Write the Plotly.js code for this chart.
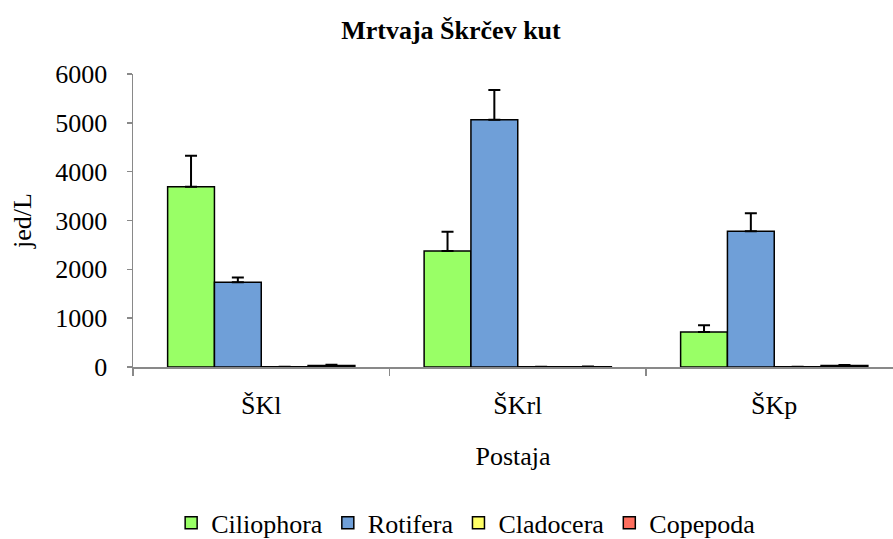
<!DOCTYPE html>
<html>
<head>
<meta charset="utf-8">
<script src="https://cdn.plot.ly/plotly-3.0.1.min.js"></script>
<style>html,body{margin:0;padding:0;background:#fff}#chart{width:893px;height:539px}</style>
</head>
<body>
<div id="chart"></div>
<script>
const categories = ["ŠKl", "ŠKrl", "ŠKp"];
const seriesNames = ["Ciliophora", "Rotifera", "Cladocera", "Copepoda"];
const ciliophora = [3690, 2375, 715];
const ciliophoraErr = [635, 395, 138];
const rotifera = [1735, 5065, 2780];
const rotiferaErr = [100, 608, 368];
const cladocera = [4, 4, 4];
const cladoceraErr = [0, 0, 0];
const copepoda = [30, 6, 30];
const copepodaErr = [15, 2, 12];
const yTicks = [0, 1000, 2000, 3000, 4000, 5000, 6000];

const colors = ["#99FF66", "#6F9FD8", "#FFFF66", "#FF6F5F"];
const values = [ciliophora, rotifera, cladocera, copepoda];
const errs = [ciliophoraErr, rotiferaErr, cladoceraErr, copepodaErr];
const font = "'Liberation Serif', 'Times New Roman', serif";
const fs = 26;

const traces = seriesNames.map((n, i) => ({
  type: "bar",
  name: n,
  x: categories,
  y: values[i],
  marker: {color: colors[i], line: {color: "#000", width: 1.5}},
  error_y: {type: "data", array: errs[i], symmetric: false, arrayminus: errs[i].map(() => 0),
            color: "#000", thickness: 2, width: 6, visible: true}
}));

const layout = {
  width: 893, height: 539,
  margin: {l: 133, r: 0, t: 74, b: 172},
  paper_bgcolor: "#fff", plot_bgcolor: "#fff",
  font: {family: font, size: fs, color: "#000"},
  title: {text: "<b>Mrtvaja Škrčev kut</b>", font: {family: font, size: 26, color: "#000"},
          x: 0.505, xref: "container", xanchor: "center", y: 0.945, yref: "container", yanchor: "middle"},
  barmode: "group", bargap: 0.27, bargroupgap: 0,
  xaxis: {
    type: "category", range: [-0.5, 2.463], tickson: "boundaries",
    showline: true, linecolor: "#898989", linewidth: 1.5,
    ticks: "outside", ticklen: 7, tickcolor: "#898989", tickwidth: 1.5,
    showgrid: false, zeroline: false, ticklabelstandoff: 14,
    tickfont: {family: font, size: fs, color: "#000"},
    title: {text: "Postaja", font: {family: font, size: fs, color: "#000"}, standoff: 28}
  },
  yaxis: {
    range: [0, 6000], tickvals: yTicks, ticktext: yTicks.map(String),
    showline: true, linecolor: "#898989", linewidth: 1.5,
    ticks: "outside", ticklen: 5, tickcolor: "#898989", tickwidth: 1.5,
    showgrid: false, zeroline: false, ticklabelstandoff: 14,
    tickfont: {family: font, size: fs, color: "#000"},
    title: {text: "jed/L", font: {family: font, size: fs, color: "#000"}, standoff: 16}
  },
  showlegend: true,
  legend: {orientation: "h", x: 0.522, xref: "container", xanchor: "center",
           y: 0.03, yref: "container", yanchor: "middle",
           font: {family: font, size: fs, color: "#000"}, itemwidth: 30, tracegroupgap: 0, traceorder: "normal"}
};

Plotly.newPlot("chart", traces, layout, {staticPlot: true});
</script>
</body>
</html>
